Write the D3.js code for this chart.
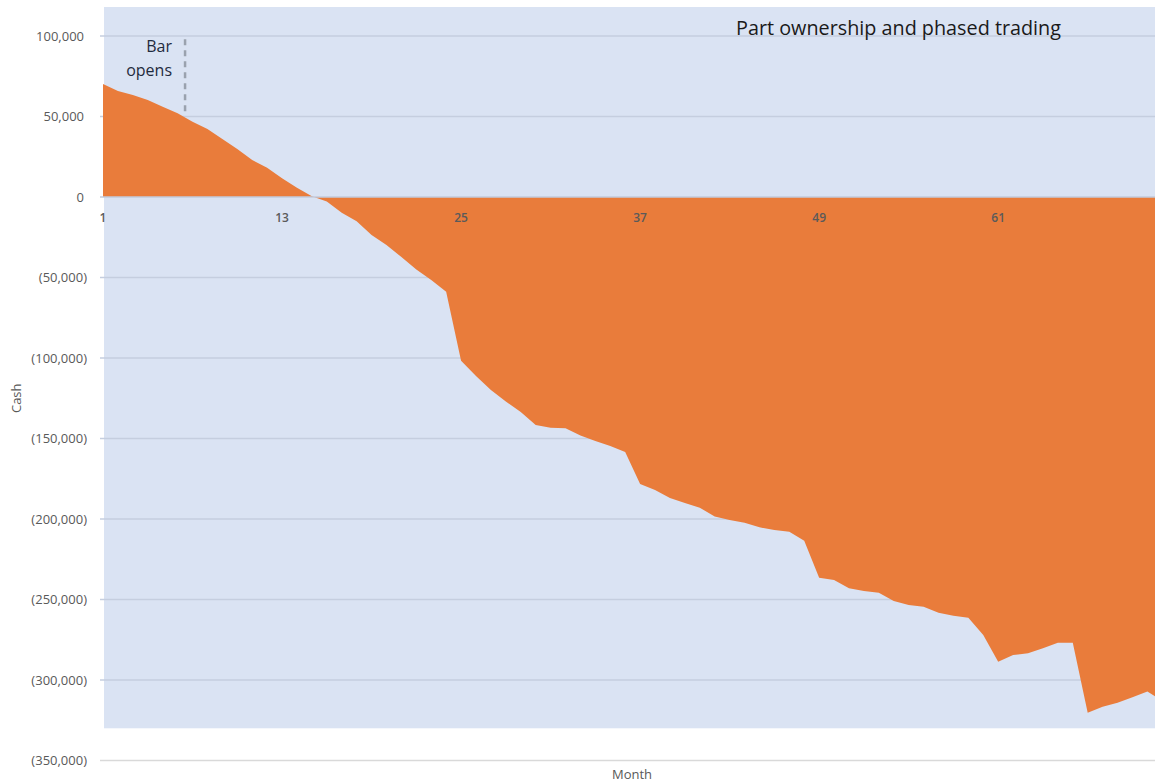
<!DOCTYPE html>
<html>
<head>
<meta charset="utf-8">
<script src="https://cdn.jsdelivr.net/npm/d3@7"></script>
<style>
  html, body { margin: 0; padding: 0; background: #ffffff; }
  svg { display: block; font-family: "Open Sans", "Liberation Sans", sans-serif; }
</style>
</head>
<body>
<svg id="chart" width="1155" height="783"></svg>
<script>
// Monthly cumulative cash position, months 1..72
const months = d3.range(1, 73);
const cash = [
  70200, 65800, 63400, 60200, 56100, 52000, 46800, 42200, 36000, 29800,
  23000, 18200, 11600, 5800, 400, -2800, -9800, -15000, -23600, -29800,
  -37300, -45000, -51600, -58800, -101700, -111200, -119900, -127000, -133500, -141600,
  -143300, -143700, -148100, -151500, -154600, -158400, -178300, -182000, -187000, -190100,
  -193000, -198400, -200600, -202300, -205200, -206800, -207900, -213500, -236500, -237900,
  -243000, -244700, -245800, -250900, -253400, -254500, -258200, -260100, -261300, -272000,
  -288600, -284500, -283400, -280300, -276800, -276800, -320300, -316600, -314100, -310700,
  -307200, -313000
];
const xTickMonths = [1, 13, 25, 37, 49, 61];
const yTickValues = [100000, 50000, 0, -50000, -100000, -150000, -200000, -250000, -300000, -350000];

// "Bar opens" marker: month position and the cash range it spans
const barOpensMonth = 6.5;
const barOpensRange = [53000, 98000];
const barOpensLabel = ["Bar", "opens"];

const chartTitle = "Part ownership and phased trading";
const yTitle = "Cash";
const xTitle = "Month";

// shaded plot band (value range)
const bandRange = [118000, -330000];

const svg = d3.select("#chart");

const x = d3.scaleLinear().domain([1, 72]).range([103, 1162.3]);
const y = d3.scaleLinear().domain([-350000, 100000]).range([760.5, 36]);

const fmt = d3.format(",");
const acct = v => v < 0 ? "(" + fmt(-v) + ")" : fmt(v);

// plot band background
svg.append("rect")
  .attr("x", 104)
  .attr("y", y(bandRange[0]))
  .attr("width", 1155 - 104)
  .attr("height", y(bandRange[1]) - y(bandRange[0]))
  .attr("fill", "#DAE3F3");

// horizontal gridlines
const grid = svg.append("g");
grid.selectAll("line")
  .data(yTickValues.filter(v => v !== 0))
  .join("line")
  .attr("x1", 100)
  .attr("x2", 1155)
  .attr("y1", d => y(d))
  .attr("y2", d => y(d))
  .attr("stroke", d => y(d) > y(bandRange[1]) ? "#D9D9D9" : "#C5CEDF")
  .attr("stroke-width", 1.5);

// cash area
const area = d3.area()
  .x((d, i) => x(months[i]))
  .y0(y(0))
  .y1(d => y(d));

svg.append("path")
  .datum(cash)
  .attr("d", area)
  .attr("fill", "#E97C3B");

// zero axis line
svg.append("line")
  .attr("x1", 100)
  .attr("x2", 1155)
  .attr("y1", y(0))
  .attr("y2", y(0))
  .attr("stroke", "#C2CBDC")
  .attr("stroke-width", 1.5);

// y tick labels (accounting format)
svg.append("g").selectAll("text")
  .data(yTickValues)
  .join("text")
  .attr("x", d => d < 0 ? 87 : 84)
  .attr("y", d => y(d))
  .attr("dy", "0.35em")
  .attr("text-anchor", "end")
  .attr("font-size", 13)
  .attr("fill", "#595959")
  .text(acct);

// x tick labels
svg.append("g").selectAll("text")
  .data(xTickMonths)
  .join("text")
  .attr("x", d => x(d))
  .attr("y", y(0) + 21)
  .attr("dy", "0.35em")
  .attr("text-anchor", "middle")
  .attr("font-size", 12)
  .attr("font-weight", 600)
  .attr("fill", "#5A5A5A")
  .text(d => d);

// axis titles
svg.append("text")
  .attr("transform", `translate(21, ${y(-125000)}) rotate(-90)`)
  .attr("text-anchor", "middle")
  .attr("font-size", 13)
  .attr("fill", "#595959")
  .text(yTitle);

svg.append("text")
  .attr("x", 632)
  .attr("y", 779)
  .attr("text-anchor", "middle")
  .attr("font-size", 13)
  .attr("fill", "#595959")
  .text(xTitle);

// chart title
svg.append("text")
  .attr("x", 736)
  .attr("y", 35)
  .attr("font-size", 19.8)
  .attr("fill", "#1A1A1A")
  .text(chartTitle);

// "Bar opens" dashed marker and label
svg.append("line")
  .attr("x1", x(barOpensMonth))
  .attr("x2", x(barOpensMonth))
  .attr("y1", y(barOpensRange[1]))
  .attr("y2", y(barOpensRange[0]))
  .attr("stroke", "#9AA2AE")
  .attr("stroke-width", 2.5)
  .attr("stroke-dasharray", "6,5");

svg.append("g").selectAll("text")
  .data(barOpensLabel)
  .join("text")
  .attr("x", x(barOpensMonth) - 13)
  .attr("y", (d, i) => 52 + i * 24)
  .attr("text-anchor", "end")
  .attr("font-size", 16)
  .attr("fill", "#1F2B3D")
  .text(d => d);
</script>
</body>
</html>
